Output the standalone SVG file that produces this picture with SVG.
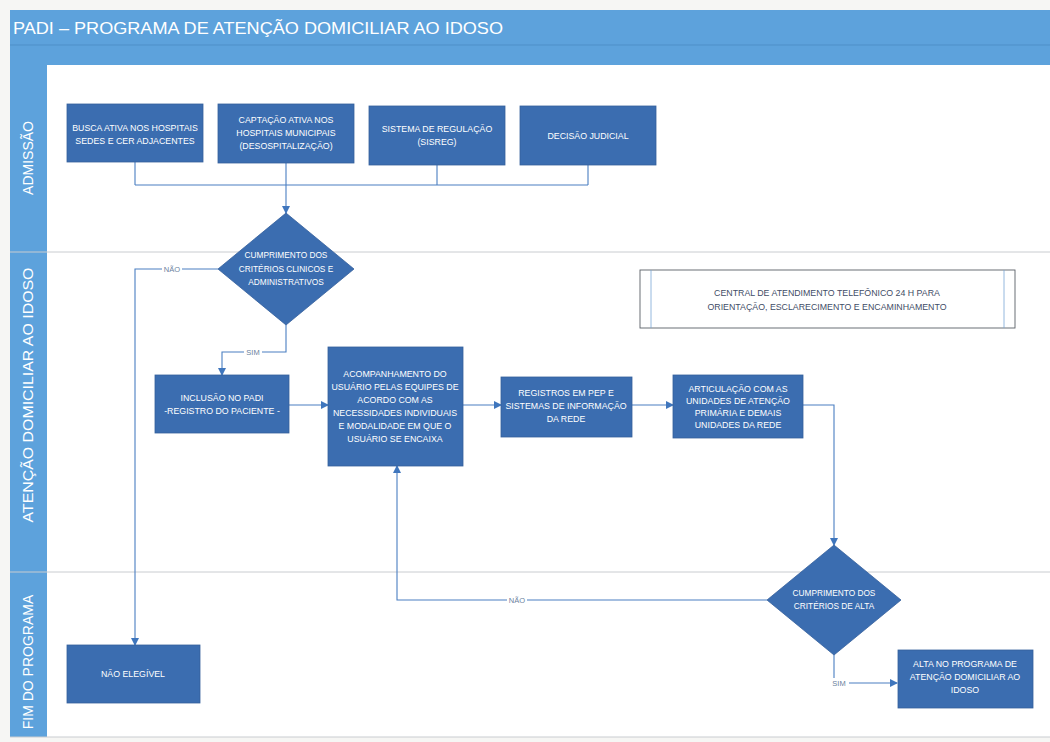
<svg xmlns="http://www.w3.org/2000/svg" width="1050" height="742" viewBox="0 0 1050 742">
<defs>
<marker id="arr" markerUnits="userSpaceOnUse" markerWidth="8" markerHeight="8" refX="7" refY="4" orient="auto">
<path d="M0,0 L8,4 L0,8 z" fill="#3f76bd"/>
</marker>
<style>
.box{fill:#3b6db0;stroke:#35609c;stroke-width:0.8}
.bt{font-family:"Liberation Sans",Arial,sans-serif;font-size:8.8px;fill:#ffffff;text-anchor:middle}
.dt{font-family:"Liberation Sans",Arial,sans-serif;font-size:8.3px;fill:#ffffff;text-anchor:middle}
.con{fill:none;stroke:#4a7fc2;stroke-width:1.1}
.lbl{font-family:"Liberation Sans",Arial,sans-serif;font-size:7.5px;fill:#6a7f9e;text-anchor:middle}
.lane{font-family:"Liberation Sans",Arial,sans-serif;font-size:14px;fill:#ffffff;text-anchor:middle}
.div{stroke:#c9ccd0;stroke-width:1}
</style>
</defs>
<rect x="0" y="0" width="1050" height="742" fill="#f6f6f4"/>
<!-- pool -->
<rect x="10" y="10" width="1040" height="727" fill="#ffffff"/>
<rect x="10" y="10" width="1040" height="55" fill="#5da2dc"/>
<line x1="10" y1="45" x2="1050" y2="45" stroke="#4e8fc8" stroke-width="1"/>
<rect x="10" y="65" width="37" height="672" fill="#5da2dc"/>
<text x="13" y="34" font-family="'Liberation Sans',Arial,sans-serif" font-size="17" fill="#ffffff" textLength="490" lengthAdjust="spacingAndGlyphs">PADI – PROGRAMA DE ATENÇÃO DOMICILIAR AO IDOSO</text>
<line class="div" x1="10" y1="252" x2="1050" y2="252"/>
<line class="div" x1="10" y1="572" x2="1050" y2="572"/>
<line class="div" x1="10" y1="737" x2="1050" y2="737"/>
<g id="lanes">
<text class="lane" transform="translate(33,158) rotate(-90)">ADMISSÃO</text>
<text class="lane" transform="translate(33,395) rotate(-90)" textLength="255" lengthAdjust="spacingAndGlyphs">ATENÇÃO DOMICILIAR AO IDOSO</text>
<text class="lane" transform="translate(33,662) rotate(-90)">FIM DO PROGRAMA</text>
</g>
<!-- connectors -->
<g id="connectors">
<path class="con" d="M135,162 V185 M286,163 V185 M437,165 V185 M588,165 V185 M135,185 H588"/>
<path class="con" d="M286,185 V213" marker-end="url(#arr)"/>
<path class="con" d="M218,269 H135 V645" marker-end="url(#arr)"/>
<path class="con" d="M286,325 V352 H222 V375" marker-end="url(#arr)"/>
<path class="con" d="M289,405 H328" marker-end="url(#arr)"/>
<path class="con" d="M463,405 H501" marker-end="url(#arr)"/>
<path class="con" d="M632,405 H673" marker-end="url(#arr)"/>
<path class="con" d="M803,405 H834 V545" marker-end="url(#arr)"/>
<path class="con" d="M767,600 H397 V466" marker-end="url(#arr)"/>
<path class="con" d="M834,655 V683 H897" marker-end="url(#arr)"/>
<rect x="162" y="264" width="20" height="10" fill="#ffffff"/>
<text class="lbl" x="172" y="272">NÃO</text>
<rect x="244" y="347" width="18" height="10" fill="#ffffff"/>
<text class="lbl" x="253" y="355">SIM</text>
<rect x="507" y="595" width="20" height="10" fill="#ffffff"/>
<text class="lbl" x="517" y="603">NÃO</text>
<rect x="829" y="678" width="20" height="10" fill="#ffffff"/>
<text class="lbl" x="839" y="686">SIM</text>
</g>
<!-- nodes -->
<g id="busca">
<rect class="box" x="67" y="104" width="136" height="58"/>
<text class="bt" x="135" y="131">BUSCA ATIVA NOS HOSPITAIS</text>
<text class="bt" x="135" y="144">SEDES E CER ADJACENTES</text>
</g>
<g id="captacao">
<rect class="box" x="218" y="104" width="136" height="59"/>
<text class="bt" x="286" y="123">CAPTAÇÃO ATIVA NOS</text>
<text class="bt" x="286" y="136">HOSPITAIS MUNICIPAIS</text>
<text class="bt" x="286" y="149">(DESOSPITALIZAÇÃO)</text>
</g>
<g id="sisreg">
<rect class="box" x="369" y="106" width="136" height="59"/>
<text class="bt" x="437" y="132">SISTEMA DE REGULAÇÃO</text>
<text class="bt" x="437" y="145">(SISREG)</text>
</g>
<g id="judicial">
<rect class="box" x="520" y="106" width="136" height="59"/>
<text class="bt" x="588" y="139">DECISÃO JUDICIAL</text>
</g>
<g id="criterios1">
<polygon class="box" points="286,213 354,269 286,325 218,269"/>
<text class="dt" x="286" y="258">CUMPRIMENTO DOS</text>
<text class="dt" x="286" y="272">CRITÉRIOS CLINICOS E</text>
<text class="dt" x="286" y="285">ADMINISTRATIVOS</text>
</g>
<g id="central">
<rect x="640" y="270" width="375" height="58" fill="#ffffff" stroke="#5a5f66" stroke-width="0.9"/>
<line x1="651" y1="270" x2="651" y2="328" stroke="#7aa6d6" stroke-width="0.8"/>
<line x1="1004" y1="270" x2="1004" y2="328" stroke="#7aa6d6" stroke-width="0.8"/>
<text class="bt" x="827" y="296" style="fill:#3f4d66">CENTRAL DE ATENDIMENTO TELEFÔNICO 24 H PARA</text>
<text class="bt" x="827" y="310" style="fill:#3f4d66">ORIENTAÇÃO, ESCLARECIMENTO E ENCAMINHAMENTO</text>
</g>
<g id="inclusao">
<rect class="box" x="155" y="375" width="134" height="58"/>
<text class="bt" x="222" y="401">INCLUSÃO NO PADI</text>
<text class="bt" x="222" y="414">-REGISTRO DO PACIENTE -</text>
</g>
<g id="acompanhamento">
<rect class="box" x="328" y="347" width="135" height="119"/>
<text class="bt" x="395" y="377">ACOMPANHAMENTO DO</text>
<text class="bt" x="395" y="390">USUÁRIO PELAS EQUIPES DE</text>
<text class="bt" x="395" y="403">ACORDO COM AS</text>
<text class="bt" x="395" y="416">NECESSIDADES INDIVIDUAIS</text>
<text class="bt" x="395" y="429">E MODALIDADE EM QUE O</text>
<text class="bt" x="395" y="442">USUÁRIO SE ENCAIXA</text>
</g>
<g id="registros">
<rect class="box" x="501" y="377" width="131" height="60"/>
<text class="bt" x="566" y="396">REGISTROS EM PEP E</text>
<text class="bt" x="566" y="409">SISTEMAS DE INFORMAÇÃO</text>
<text class="bt" x="566" y="422">DA REDE</text>
</g>
<g id="articulacao">
<rect class="box" x="673" y="375" width="130" height="63"/>
<text class="bt" x="738" y="392">ARTICULAÇÃO COM AS</text>
<text class="bt" x="738" y="404">UNIDADES DE ATENÇÃO</text>
<text class="bt" x="738" y="416">PRIMÁRIA E DEMAIS</text>
<text class="bt" x="738" y="428">UNIDADES DA REDE</text>
</g>
<g id="criterios2">
<polygon class="box" points="834,545 901,600 834,655 767,600"/>
<text class="dt" x="834" y="596">CUMPRIMENTO DOS</text>
<text class="dt" x="834" y="609">CRITÉRIOS DE ALTA</text>
</g>
<g id="nao-elegivel">
<rect class="box" x="67" y="645" width="133" height="58"/>
<text class="bt" x="133" y="677">NÃO ELEGÍVEL</text>
</g>
<g id="alta">
<rect class="box" x="898" y="650" width="135" height="58"/>
<text class="bt" x="965" y="667">ALTA NO PROGRAMA DE</text>
<text class="bt" x="965" y="680">ATENÇÃO DOMICILIAR AO</text>
<text class="bt" x="965" y="693">IDOSO</text>
</g>
</svg>
